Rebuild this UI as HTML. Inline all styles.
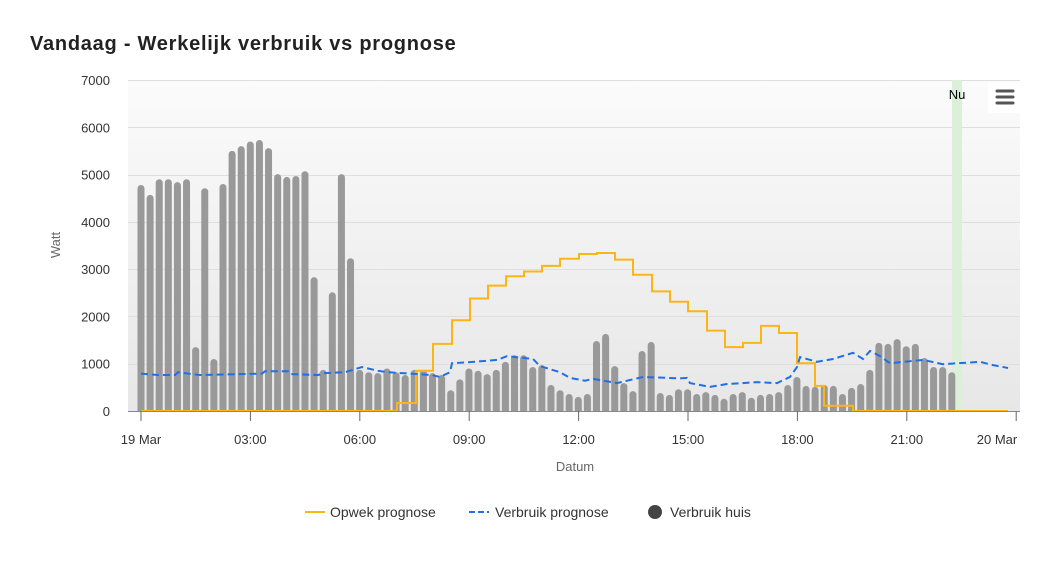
<!DOCTYPE html>
<html><head><meta charset="utf-8"><style>
body{margin:0;background:#fff;width:1063px;height:576px;overflow:hidden;font-family:"Liberation Sans",sans-serif}
</style></head><body>
<svg id="s" width="1063" height="576" xmlns="http://www.w3.org/2000/svg" font-family="Liberation Sans, sans-serif">
<defs><linearGradient id="g" x1="0" y1="0" x2="0" y2="1"><stop offset="0" stop-color="#fbfbfb"/><stop offset="1" stop-color="#e7e7e7"/></linearGradient></defs>
<text x="30" y="50" font-size="20" font-weight="bold" fill="#222" letter-spacing="0.75">Vandaag - Werkelijk verbruik vs prognose</text>
<rect x="128" y="80" width="892" height="331" fill="url(#g)"/>
<g id="grid" stroke="#dedede" stroke-width="1"></g>
<rect x="952" y="80" width="10" height="331" fill="#dcefd9"/>
<g id="bars" fill="#999"></g>
<polyline id="yel" fill="none" stroke="#fdb515" stroke-width="2"/>
<polyline id="blu" fill="none" stroke="#1f6fe8" stroke-width="2" stroke-dasharray="7,4"/>
<line x1="128" y1="411.5" x2="1020" y2="411.5" stroke="#888"/>
<g id="ticks" stroke="#666"></g>
<g id="lbl" font-size="13" fill="#333"></g>
<text x="957" y="99" font-size="13" text-anchor="middle" fill="#000">Nu</text>
<rect x="988" y="83" width="32" height="30" fill="#fff"/>
<g stroke="#555" stroke-width="3" stroke-linecap="round"><line x1="997" y1="91" x2="1013" y2="91"/><line x1="997" y1="97" x2="1013" y2="97"/><line x1="997" y1="103" x2="1013" y2="103"/></g>
<text x="60" y="245" font-size="13" fill="#666" transform="rotate(-90 60 245)" text-anchor="middle">Watt</text>
<text x="575" y="471" font-size="13" fill="#666" text-anchor="middle">Datum</text>
<g font-size="14" fill="#333">
<line x1="305" y1="512" x2="325" y2="512" stroke="#fdb515" stroke-width="2"/><text x="330" y="517">Opwek prognose</text>
<line x1="469" y1="512" x2="489" y2="512" stroke="#1f6fe8" stroke-width="2" stroke-dasharray="6,3"/><text x="495" y="517">Verbruik prognose</text>
<circle cx="655" cy="512" r="7" fill="#444"/><text x="670" y="517">Verbruik huis</text>
</g>
</svg>
<script>
const Y=v=>411-v*0.04729, NS="http://www.w3.org/2000/svg";
function el(p,t,a,txt){const e=document.createElementNS(NS,t);for(const k in a)e.setAttribute(k,a[k]);if(txt)e.textContent=txt;document.getElementById(p).appendChild(e);}
for(let i=1;i<=7;i++){const y=Math.round(Y(i*1000))+0.5;el("grid","line",{x1:128,x2:1020,y1:y,y2:y});}
for(let i=0;i<=7;i++)el("lbl","text",{x:110,y:Y(i*1000)+5,"text-anchor":"end"},String(i*1000));
const xl=["19 Mar","03:00","06:00","09:00","12:00","15:00","18:00","21:00","20 Mar"];
for(let i=0;i<=8;i++){const x=141+i*109.4;el("ticks","line",{x1:x,x2:x,y1:411,y2:421});el("lbl","text",{x:i==8?997:x,y:444,"text-anchor":"middle"},xl[i]);}
const b=[4780,4570,4900,4900,4840,4900,1350,4710,1100,4800,5500,5600,5700,5730,5560,5010,4950,4970,5070,2830,870,2510,5010,3230,
870,820,800,900,820,760,870,870,800,760,440,670,900,850,780,870,1040,1180,1180,930,970,550,440,360,300,360,1480,1630,950,590,420,1270,1460,380,
340,460,460,360,400,340,260,360,400,280,340,360,400,550,720,530,510,550,530,360,490,570,870,1440,1420,1520,1370,1420,1120,930,930,820];
b.forEach((v,i)=>{const x=141+i*9.11-3.5,y=Y(v);el("bars","path",{d:`M${x} 411V${y+3.5}a3.5 3.5 0 0 1 7 0V411Z`});});
const ys=[[397,170],[416,850],[433,1420],[452,1920],[470,2380],[488,2650],[506,2850],[524,2950],[542,3070],[560,3220],[579,3320],[597,3340],[615,3200],[633,2880],[652,2530],[670,2310],[688,2110],[707,1700],[725,1350],[743,1440],[761,1800],[779,1650],[797,1010],[815,530],[824,110],[853,0]];
let p=[`141,${Y(0)}`],prev=0;ys.forEach(([x,v])=>{p.push(`${x},${Y(prev)}`,`${x},${Y(v)}`);prev=v;});p.push(`1008,${Y(0)}`);
document.getElementById("yel").setAttribute("points",p.join(" "));
const bl=[[141,790],[158,760],[175,760],[178,820],[192,780],[200,760],[262,790],[265,840],[288,840],[290,780],[318,760],[324,800],[345,820],[362,930],[378,850],[388,820],[432,760],[440,720],[450,820],[452,1010],[468,1030],[497,1080],[507,1160],[533,1100],[540,950],[560,820],[570,700],[585,640],[593,680],[617,590],[627,640],[643,720],[680,690],[687,700],[690,590],[710,510],[727,570],[757,610],[777,590],[790,720],[797,930],[800,1140],[817,1040],[833,1100],[853,1230],[863,1100],[870,1270],[880,1160],[890,1010],[923,1080],[943,990],[980,1040],[993,970],[1008,910]];
document.getElementById("blu").setAttribute("points",bl.map(([x,v])=>x+","+Y(v)).join(" "));
</script>
</body></html>
